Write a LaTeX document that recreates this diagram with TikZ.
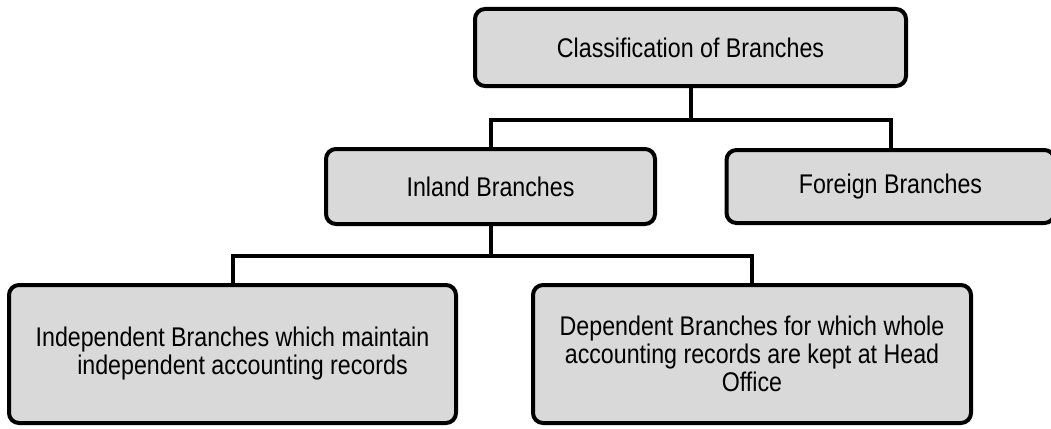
\documentclass[tikz,border=0pt]{standalone}
\usepackage{fontspec}
\setmainfont[FakeStretch=0.86]{Liberation Sans}
\usepackage{tikz}
\usetikzlibrary{shapes,arrows,positioning,calc}
\definecolor{boxgray}{RGB}{217,217,217}
\newcommand{\boxfont}{\fontsize{27}{28}\selectfont}
\tikzset{
block/.style = {draw, fill=boxgray, rectangle, rounded corners=10pt, line width=4pt, align=center, inner sep=0pt, font=\boxfont},
link/.style = {draw, line width=4pt},
}

\begin{document}
\begin{tikzpicture}[x=1pt, y=-1pt, node distance=150pt]
      \useasboundingbox (0,0) rectangle (1051,428);
      \clip (0,0) rectangle (1051,428);
      \node [block, name=top, minimum width=431pt, minimum height=77pt] at (690.5,47.5) {Classification of Branches};
      \node [block, name=inland, below of = top, node distance = 139pt, xshift=-200pt, minimum width=329pt, minimum height=75pt] {Inland Branches};
      \node [block, name=foreign, right of = inland, node distance = 400pt, minimum width=328pt, minimum height=73pt] {Foreign Branches};
      \node [block, name=indep, below of = inland, node distance = 167.5pt, xshift=-258pt, minimum width=447pt, minimum height=138pt]
         {Independent Branches which maintain\\\hspace*{20pt}independent accounting records};
      \node [block, name=dep, right of = indep, node distance = 519.5pt, minimum width=438pt, minimum height=138pt]
         {Dependent Branches for which whole\\accounting records are kept at Head\\Office};
      \coordinate [below = 32pt of top.south] (fork1);
      \coordinate [below = 30pt of inland.south] (fork2);
      \draw [link] (top) -- (fork1);
      \draw [link] (fork1) -| (inland);
      \draw [link] (fork1) -| (foreign);
      \draw [link] (inland) -- (fork2);
      \draw [link] (fork2) -| (indep);
      \draw [link] (fork2) -| (dep);
\end{tikzpicture}
\end{document}
